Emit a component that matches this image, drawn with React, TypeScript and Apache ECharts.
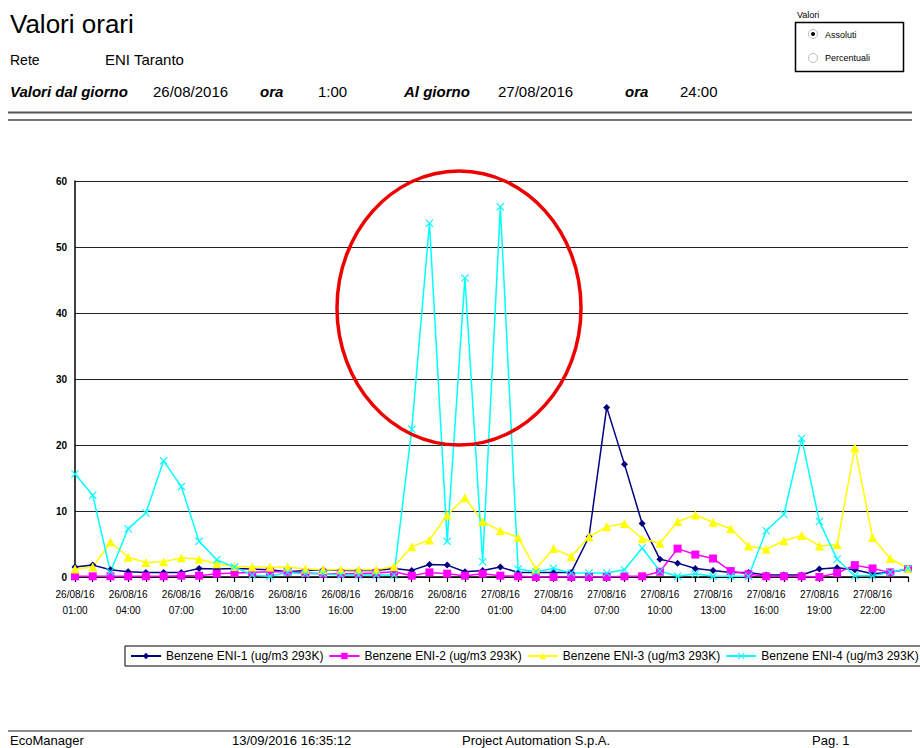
import React, { useEffect, useRef } from "react";
import * as echarts from "echarts";

const days = ["26/08/16", "27/08/16"];
const hours = ["01:00","02:00","03:00","04:00","05:00","06:00","07:00","08:00","09:00","10:00","11:00","12:00","13:00","14:00","15:00","16:00","17:00","18:00","19:00","20:00","21:00","22:00","23:00","24:00"];
const categories: string[] = [];
days.forEach((d) => hours.forEach((h) => categories.push(d + "\n" + h)));

const seriesNames = [
  "Benzene ENI-1 (ug/m3 293K)",
  "Benzene ENI-2 (ug/m3 293K)",
  "Benzene ENI-3 (ug/m3 293K)",
  "Benzene ENI-4 (ug/m3 293K)",
];

const eni1 = [1.5,1.8,1.1,0.8,0.7,0.7,0.7,1.3,1.2,1.3,1.2,1.1,0.8,1.0,1.1,1.0,1.0,1.0,1.3,1.0,1.9,1.8,0.8,1.0,1.5,0.7,0.7,0.7,0.7,6.1,25.7,17.1,8.1,2.7,2.1,1.3,1.0,0.7,0.7,0.3,0.3,0.3,1.2,1.4,1.1,0.5,0.7,1.2];
const eni2 = [0.1,0.1,0.1,0.1,0.1,0.1,0.2,0.2,0.5,0.6,0.7,0.8,0.8,0.6,0.5,0.5,0.5,0.6,0.8,0.2,0.7,0.5,0.2,0.5,0.2,0.1,0.0,0.0,0.0,0.0,0.0,0.1,0.1,0.8,4.3,3.4,2.8,0.9,0.4,0.1,0.1,0.1,0.0,0.6,1.8,1.3,0.7,1.2];
const eni3 = [1.2,1.5,5.3,3.0,2.2,2.3,2.9,2.7,2.0,1.6,1.5,1.5,1.5,1.2,1.1,1.1,1.1,1.1,1.6,4.6,5.6,9.4,12.0,8.4,7.0,6.0,1.2,4.3,3.1,6.1,7.6,8.1,5.8,5.1,8.4,9.4,8.3,7.3,4.7,4.2,5.5,6.3,4.7,4.9,19.6,6.0,2.8,1.3];
const eni4 = [15.6,12.4,0.8,7.3,9.7,17.6,13.7,5.4,2.6,1.5,0.3,0.1,0.7,0.5,0.5,0.3,0.3,0.3,0.3,22.4,53.6,5.4,45.3,2.3,56.1,1.2,0.8,1.3,0.6,0.6,0.6,1.1,4.4,0.9,0.1,0.5,0.1,0.1,0.1,7.0,9.5,21.0,8.4,2.7,0.2,0.2,0.7,1.3];

const FONT = "'Liberation Sans', Arial, sans-serif";
const X_SYMBOL = "path://M0,1L1,0L5,4L9,0L10,1L6,5L10,9L9,10L5,6L1,10L0,9L4,5Z";

function txt(text: string, x: number, y: number, size: number, extra: any = {}) {
  return {
    type: "text",
    x,
    y,
    silent: true,
    style: {
      text,
      fill: "#000",
      font: `${extra.style || ""} ${extra.weight || "normal"} ${size}px ${FONT}`,
      align: extra.align || "left",
      verticalAlign: "middle",
      textAlign: extra.align || "left",
      textVerticalAlign: "middle",
    },
  };
}

export default function App() {
  const ref = useRef<HTMLDivElement>(null);
  useEffect(() => {
    if (!ref.current) return;
    const chart = echarts.init(ref.current, null, { renderer: "svg" });
    const mk = (name: string, data: number[], color: string, symbol: string, size: number) => ({
      name,
      type: "line",
      data,
      symbol,
      symbolSize: size,
      showSymbol: true,
      lineStyle: { color, width: 1.5 },
      itemStyle: { color, borderWidth: 0 },
      emphasis: { disabled: true },
    });
    chart.setOption({
      animation: false,
      backgroundColor: "#fff",
      textStyle: { fontFamily: FONT },
      grid: { left: 75, top: 181, width: 833, height: 396, containLabel: false },
      legend: {
        left: 125,
        top: 646,
        width: 820,
        orient: "horizontal",
        padding: [4, 5, 4, 5],
        borderColor: "#000",
        borderWidth: 1,
        itemWidth: 30,
        itemHeight: 8,
        itemGap: 5,
        selectedMode: false,
        textStyle: { fontSize: 12, color: "#000", width: 160, overflow: "none", fontFamily: FONT },
        data: seriesNames,
      },
      xAxis: {
        type: "category",
        boundaryGap: false,
        data: categories,
        axisLine: { lineStyle: { color: "#000", width: 1.5 } },
        axisTick: { show: true, interval: 0, length: 5, lineStyle: { color: "#000", width: 1.2 } },
        axisLabel: { interval: 2, color: "#000", fontSize: 10, lineHeight: 16, margin: 9, fontFamily: FONT },
        splitLine: { show: false },
      },
      yAxis: {
        type: "value",
        min: 0,
        max: 60,
        interval: 10,
        axisLine: { show: true, lineStyle: { color: "#000", width: 1.5 } },
        axisTick: { show: false },
        axisLabel: { color: "#000", fontSize: 10, fontWeight: "bold", margin: 8, fontFamily: FONT },
        splitLine: { show: true, lineStyle: { color: "#222", width: 1.2 } },
      },
      series: [
        mk(seriesNames[0], eni1, "#000080", "diamond", 7),
        mk(seriesNames[1], eni2, "#ff00ff", "rect", 8),
        mk(seriesNames[2], eni3, "#ffff00", "triangle", 9),
        mk(seriesNames[3], eni4, "#00ffff", X_SYMBOL, 8),
      ],
      graphic: [
        txt("Valori orari", 10, 24, 26),
        txt("Rete", 10, 60, 14),
        txt("ENI Taranto", 105, 59, 15),
        txt("Valori dal giorno", 10, 91, 15, { style: "italic", weight: "bold" }),
        txt("26/08/2016", 153, 91, 15),
        txt("ora", 260, 91, 15, { style: "italic", weight: "bold" }),
        txt("1:00", 318, 91, 15),
        txt("Al giorno", 404, 91, 15, { style: "italic", weight: "bold" }),
        txt("27/08/2016", 498, 91, 15),
        txt("ora", 625, 91, 15, { style: "italic", weight: "bold" }),
        txt("24:00", 680, 91, 15),
        txt("Valori", 797, 15, 9),
        {
          type: "rect",
          shape: { x: 795.5, y: 22.5, width: 108, height: 49 },
          style: { fill: "none", stroke: "#000", lineWidth: 1.5 },
          silent: true,
        },
        { type: "circle", shape: { cx: 813, cy: 34, r: 4.5 }, style: { fill: "#fff", stroke: "#bbb", lineWidth: 1 }, silent: true },
        { type: "circle", shape: { cx: 813, cy: 34, r: 2 }, style: { fill: "#000" }, silent: true },
        { type: "circle", shape: { cx: 813, cy: 58, r: 4.5 }, style: { fill: "#fff", stroke: "#bbb", lineWidth: 1 }, silent: true },
        txt("Assoluti", 825, 35, 9),
        txt("Percentuali", 825, 58, 9),
        { type: "line", shape: { x1: 8, y1: 112.5, x2: 912, y2: 112.5 }, style: { stroke: "#555", lineWidth: 2 }, silent: true },
        { type: "line", shape: { x1: 8, y1: 120, x2: 912, y2: 120 }, style: { stroke: "#444", lineWidth: 1.5 }, silent: true },
        {
          type: "ellipse",
          shape: { cx: 459, cy: 308, rx: 122, ry: 137 },
          style: { fill: "none", stroke: "#ee0000", lineWidth: 3.5 },
          silent: true,
          z: 100,
        },
        { type: "line", shape: { x1: 8, y1: 731, x2: 912, y2: 731 }, style: { stroke: "#666", lineWidth: 1.5 }, silent: true },
        txt("EcoManager", 10, 740, 13),
        txt("13/09/2016 16:35:12", 232, 740, 13),
        txt("Project Automation S.p.A.", 462, 740, 13),
        txt("Pag. 1", 812, 740, 13),
      ],
    });
    return () => chart.dispose();
  }, []);
  return (
    <div
      ref={ref}
      style={{ position: "absolute", left: 0, top: 0, width: 920, height: 748, background: "#fff" }}
    />
  );
}
